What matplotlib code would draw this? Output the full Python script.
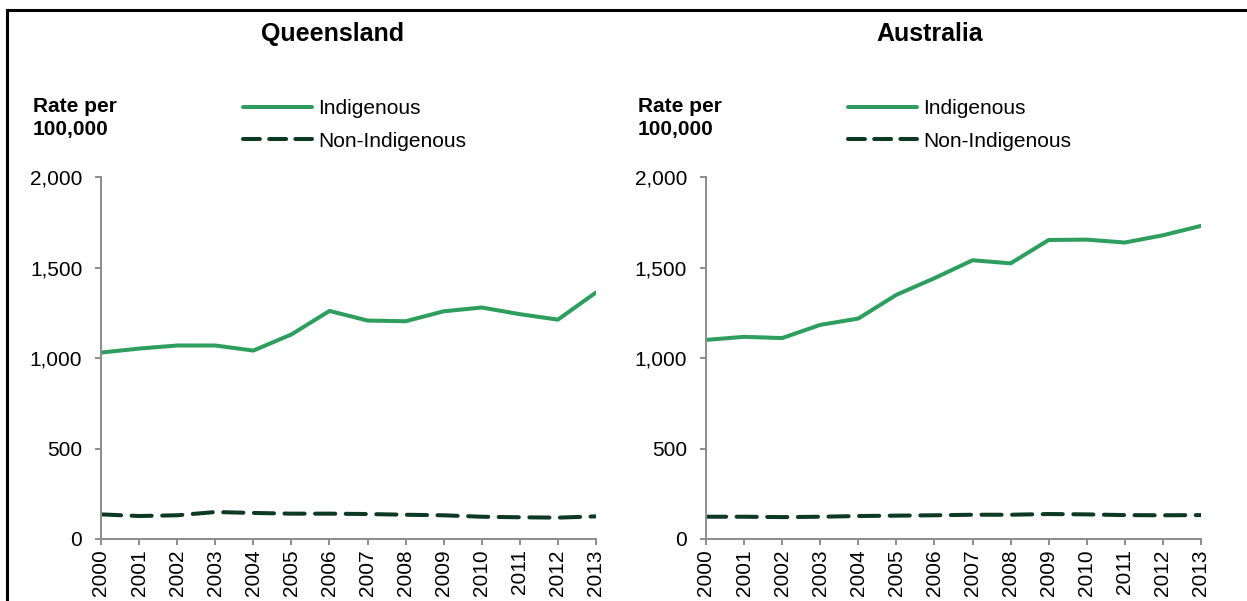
import matplotlib
matplotlib.use("Agg")
import matplotlib.pyplot as plt
from matplotlib.lines import Line2D

plt.rcParams["font.family"] = ["Liberation Sans", "DejaVu Sans"]

years = list(range(2000, 2014))
year_labels = [str(y) for y in years]

qld_indigenous = [1030, 1052, 1069, 1069, 1041, 1130, 1260, 1207, 1203, 1258, 1279, 1242, 1212, 1362]
qld_non_indigenous = [136, 127, 131, 149, 144, 140, 140, 138, 134, 131, 123, 120, 118, 125]

aus_indigenous = [1100, 1117, 1110, 1183, 1218, 1349, 1441, 1540, 1523, 1652, 1654, 1638, 1678, 1730]
aus_non_indigenous = [123, 123, 121, 123, 127, 129, 131, 134, 134, 138, 136, 132, 131, 132]

panel_titles = ["Queensland", "Australia"]
series_labels = ["Indigenous", "Non-Indigenous"]
y_ticks = [0, 500, 1000, 1500, 2000]
y_tick_labels = ["0", "500", "1,000", "1,500", "2,000"]

GREEN = "#2e9e5f"
DARK = "#0c3a22"
AXIS_GREY = "#8c8c8c"

W, H = 1247, 601
fig = plt.figure(figsize=(W / 100, H / 100), dpi=100)

panels = [
    (panel_titles[0], qld_indigenous, qld_non_indigenous, 101, 333),
    (panel_titles[1], aus_indigenous, aus_non_indigenous, 706, 930),
]

for title, indig, non_indig, left_px, title_px in panels:
    ax = fig.add_axes([left_px / W, 1 - 539 / H, 495 / W, (539 - 177) / H])
    ax.plot(years, indig, color=GREEN, lw=2.9, solid_capstyle="round",
            label=series_labels[0])
    ax.plot(years, non_indig, color=DARK, lw=2.9, dashes=(5, 2.6),
            dash_capstyle="round", label=series_labels[1])
    ax.set_xlim(years[0], years[-1])
    ax.set_ylim(0, 2000)
    ax.set_yticks(y_ticks)
    ax.set_yticklabels(y_tick_labels)
    ax.set_xticks(years)
    ax.set_xticklabels(year_labels, rotation=90, va="top")
    for side in ["top", "right"]:
        ax.spines[side].set_visible(False)
    for side in ["left", "bottom"]:
        ax.spines[side].set_color(AXIS_GREY)
        ax.spines[side].set_linewidth(1.4)
    ax.tick_params(axis="both", colors=AXIS_GREY, width=1.4, length=4.5,
                   labelcolor="black", labelsize=15)
    ax.tick_params(axis="y", pad=9)
    ax.tick_params(axis="x", pad=3)

    fig.text(title_px / W, 1 - 34 / H, title, ha="center", va="center",
             fontsize=18, fontweight="bold")
    fig.text((left_px - 68) / W, 1 - 118 / H, "Rate per\n100,000", ha="left",
             va="center", fontsize=15, fontweight="bold", linespacing=1.27)

    handles = [
        Line2D([], [], color=GREEN, lw=2.9, solid_capstyle="round"),
        Line2D([], [], color=DARK, lw=2.9, dashes=(4.2, 2.3), dash_capstyle="round"),
    ]
    fig.legend(handles, series_labels, loc="upper left",
               bbox_to_anchor=((left_px + 142) / W, 1 - 99 / H),
               frameon=False, fontsize=15, handlelength=3.3, handletextpad=0.3,
               labelspacing=0.66, borderpad=0, borderaxespad=0)

# frame around the figure (top and left edges)
fig.add_artist(Line2D([7 / W, 7 / W], [0, 1 - 10 / H], transform=fig.transFigure,
                      color="black", lw=2.2, solid_capstyle="projecting"))
fig.add_artist(Line2D([7 / W, 1], [1 - 10 / H, 1 - 10 / H], transform=fig.transFigure,
                      color="black", lw=2.2, solid_capstyle="projecting"))

fig.savefig("out.png", dpi=100)
